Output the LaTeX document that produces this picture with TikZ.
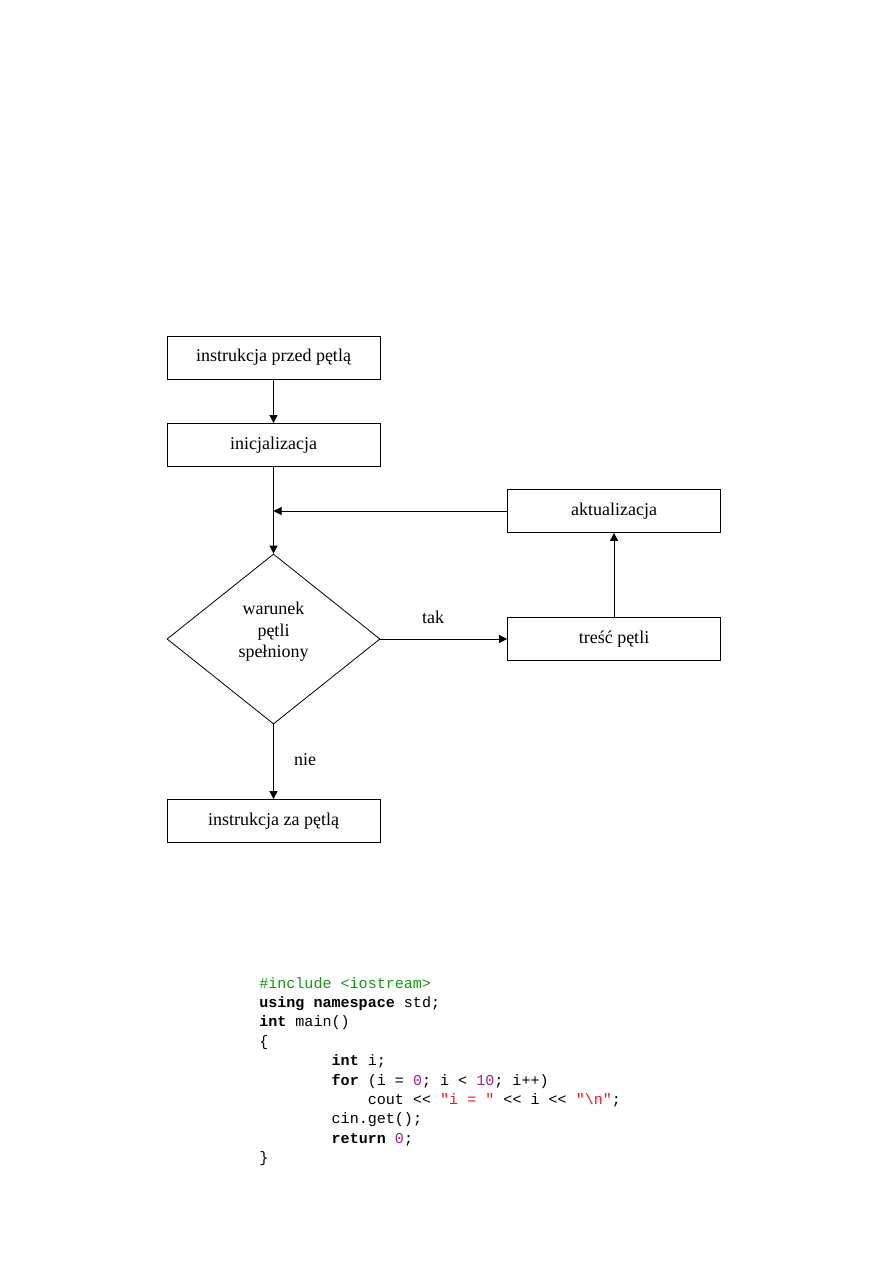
\documentclass[tikz,border=0pt]{standalone}
\usepackage{fontspec}
\setmainfont{Liberation Serif}
\setmonofont{Liberation Mono}
\usetikzlibrary{arrows.meta, positioning, shapes.geometric}
\definecolor{CodeGreen}{HTML}{119911}
\definecolor{CodeNum}{HTML}{992299}
\definecolor{CodeStr}{HTML}{FF1111}

\begin{document}
\begin{tikzpicture}[x=0.75pt, y=-0.75pt, >={Triangle[length=6pt, width=6pt]},
  block/.style={draw, line width=0.6pt, minimum width=159.75pt, minimum height=32.25pt,
    inner sep=0pt, font=\fontsize{13.5}{16}\selectfont},
  decision/.style={draw, diamond, line width=0.6pt, minimum width=159.75pt,
    minimum height=127.5pt, inner sep=0pt},
  lbl/.style={font=\fontsize{13.5}{16}\selectfont, inner sep=0pt},
  flow/.style={->, line width=0.6pt},
  code/.style={anchor=base west, inner sep=0pt, font=\fontsize{11.3}{14}\ttfamily}]
  \useasboundingbox (0,0) rectangle (893,1263);
  % Flowchart
  \node[block] (pre) at (273.5,357.5) {instrukcja przed pętlą};
  \node[block] (init) at (273.5,445) {inicjalizacja};
  \node[decision] (cond) at (273.5,639) {};
  \node[lbl, align=center] (condtext) at (273.5,632) {warunek\\pętli\\spełniony};
  \node[block] (upd) at (614,511) {aktualizacja};
  \node[block] (body) at (614,639) {treść pętli};
  \node[block] (post) at (273.5,821) {instrukcja za pętlą};
  \coordinate (join) at (273.5,511);
  % Connectors
  \draw[flow] (pre) -- (init);
  \draw[flow] (init) -- (cond.north);
  \draw[flow] (upd) -- (join);
  \draw[flow] (cond.east) -- (body);
  \draw[flow] (body) -- (upd);
  \draw[flow] (cond.south) -- (post);
  \node[lbl] (yes) at (433,617) {tak};
  \node[lbl] (no) at (305,760) {nie};
  % Code listing
  \node[code, text=CodeGreen] (c1) at (259,988) {\#include <iostream>};
  \node[code] (c2) at (259,1007.4) {\textbf{using} \textbf{namespace} std;};
  \node[code] (c3) at (259,1026.8) {\textbf{int} main()};
  \node[code] (c4) at (259,1046.2) {\{};
  \node[code] (c5) at (331.4,1065.6) {\textbf{int} i;};
  \node[code] (c6) at (331.4,1085) {\textbf{for} (i = \textcolor{CodeNum}{0}; i < \textcolor{CodeNum}{10}; i++)};
  \node[code] (c7) at (367.6,1104.4) {cout << \textcolor{CodeStr}{"i = "} << i << \textcolor{CodeStr}{"\textbackslash n"};};
  \node[code] (c8) at (331.4,1123.8) {cin.get();};
  \node[code] (c9) at (331.4,1143.2) {\textbf{return} \textcolor{CodeNum}{0};};
  \node[code] (c10) at (259,1162.6) {\}};
\end{tikzpicture}
\end{document}
